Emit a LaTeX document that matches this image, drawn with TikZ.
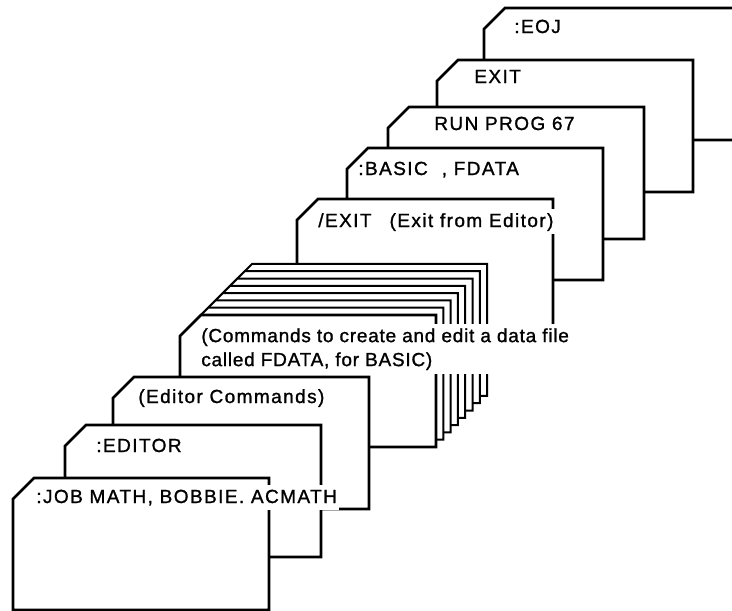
\documentclass[tikz,border=0pt]{standalone}
\usepackage{fontspec}
\setmainfont{Liberation Sans}
\newfontfamily\cardfont[LetterSpace=7.5,FakeBold=1.2]{Liberation Sans}
\newfontfamily\cmdfont[LetterSpace=4,FakeBold=1.2]{Liberation Sans}
\tikzset{
  punchcard/.pic={\draw[fill=white] (0,21) -- (21,0) -- (256,0) -- (256,132) -- (0,132) -- cycle;},
  cardtext/.style={anchor=base west, inner xsep=2pt, inner ysep=4pt,
    text height=14pt, text depth=3pt, font=\cardfont\fontsize{19}{24}\selectfont},
  cmdtext/.style={fill=white, anchor=north west, align=left, inner xsep=2pt, inner ysep=4pt,
    font=\cmdfont\fontsize{19}{24}\selectfont},
}
\begin{document}
\begin{tikzpicture}[x=1pt, y=-1pt, line width=2.7pt]
\useasboundingbox (0,0) rectangle (732,611);

% back of the deck
\pic at (484,8) {punchcard};
\node[cardtext] (eoj) at (511,33) {:EOJ};

\pic at (437,60) {punchcard};
\node[cardtext] (exit) at (471,83) {EXIT};

\pic at (388,107) {punchcard};
\node[cardtext] (run) at (431,130) {RUN PROG 67};

\pic at (347,148) {punchcard};
\node[cardtext] (basic) at (355,175) {:BASIC\hspace{14pt}, FDATA};

\pic at (297,199) {punchcard};
\node[cardtext, fill=white] (edexit) at (315,227) {/EXIT\hspace{18pt}(Exit from Editor)};

% data cards
\foreach \i in {7,6,...,1}
  \pic[line width=2pt] at ({180+7.3*\i},{315-7.3*\i}) {punchcard};

\pic at (180,315) {punchcard};
\node[cmdtext] (cmds) at (198,323) {(Commands to create and edit a data file\\called FDATA, for BASIC)};

\pic at (113,377) {punchcard};
\node[cardtext] (edcmds) at (135,403) {(Editor Commands)};

\pic at (65,425) {punchcard};
\node[cardtext] (editor) at (93,452) {:EDITOR};

% front of the deck
\pic at (13,478) {punchcard};
\node[cardtext, fill=white] (job) at (33,503) {:JOB MATH, BOBBIE. ACMATH};
\end{tikzpicture}
\end{document}
